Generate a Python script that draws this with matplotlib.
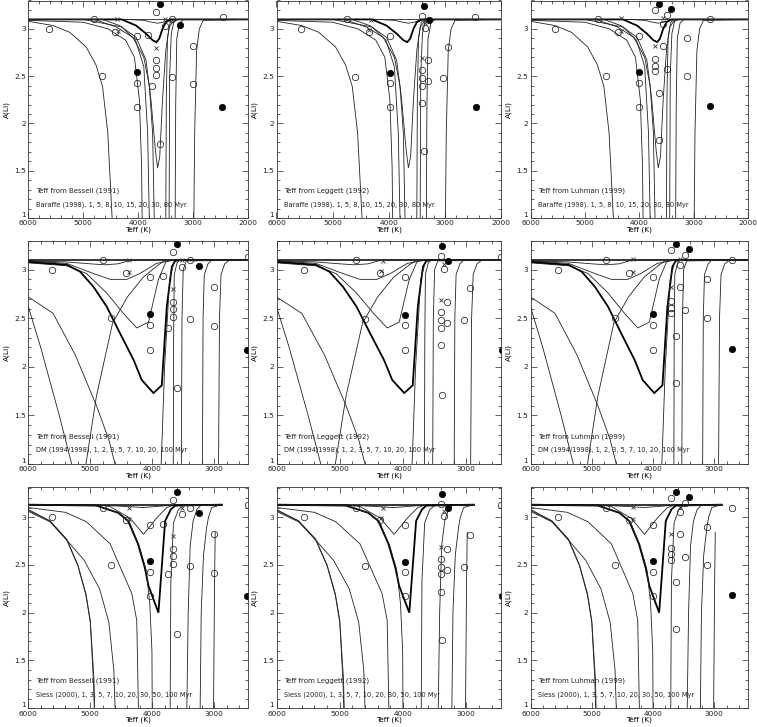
import matplotlib
matplotlib.use('Agg')
import matplotlib.pyplot as plt
from matplotlib.ticker import MultipleLocator, FixedLocator

plt.rcParams['font.family'] = ['Liberation Sans Narrow', 'DejaVu Sans']

# ---------------- observed stars (per Teff scale) ----------------
# Bessell (1991)
bes_open_teff = [5620, 4800, 4660, 4420, 4030, 4030, 4030, 3830, 3750, 3670, 3670, 3670, 3670, 3600, 3520, 3390, 3390, 3000, 3000, 2460]
bes_open_ali = [3.00, 3.10, 2.50, 2.97, 2.92, 2.43, 2.17, 2.93, 2.40, 3.18, 2.67, 2.59, 2.51, 1.78, 3.03, 3.10, 2.49, 2.82, 2.42, 3.13]
bes_fill_teff = [3600, 3250, 4030, 2470]
bes_fill_ali = [3.26, 3.04, 2.54, 2.17]
bes_cross_teff = [4380, 4370, 3670, 3520]
bes_cross_ali = [3.10, 2.98, 2.80, 3.10]
# Leggett (1992)
leg_open_teff = [5560, 4740, 4600, 4360, 3970, 3970, 3970, 3400, 3350, 3300, 3400, 3400, 3400, 3300, 3400, 3380, 2940, 3030, 2455]
leg_open_ali = [3.00, 3.10, 2.49, 2.97, 2.92, 2.43, 2.17, 3.14, 3.01, 2.67, 2.56, 2.48, 2.40, 2.45, 2.22, 1.71, 2.81, 2.48, 3.13]
leg_fill_teff = [3380, 3290, 3970, 2440]
leg_fill_ali = [3.24, 3.09, 2.53, 2.17]
leg_cross_teff = [4310, 4350, 3400, 3350]
leg_cross_ali = [3.09, 2.99, 2.69, 3.06]
# Luhman (1999)
luh_open_teff = [5557, 4760, 4620, 4385, 4005, 4005, 4005, 3708, 3708, 3708, 3708, 3562, 3562, 3630, 3630, 3484, 3484, 3125, 3125, 2708]
luh_open_ali = [3.00, 3.10, 2.50, 2.97, 2.92, 2.43, 2.17, 3.20, 2.68, 2.61, 2.55, 3.05, 2.82, 2.32, 1.83, 2.58, 3.15, 2.90, 2.50, 3.10]
luh_fill_teff = [3630, 3411, 4005, 2708]
luh_fill_ali = [3.26, 3.21, 2.54, 2.18]
luh_cross_teff = [4333, 4333, 3708, 3568]
luh_cross_ali = [3.11, 2.98, 2.82, 3.11]

scale_names = ["Bessell (1991)", "Leggett (1992)", "Luhman (1999)"]

# ---------------- model isochrones ----------------
# Baraffe (1998): 1, 5, 8, 10, 15, 20, 30, 80 Myr
bar_1_t = [6000, 2000]
bar_1_a = [3.10, 3.10]
bar_5_t = [6000, 4200, 3900, 3750, 3650, 3550, 3450, 3350, 2000]
bar_5_a = [3.10, 3.10, 3.09, 3.07, 3.06, 3.07, 3.09, 3.10, 3.10]
bar_8_t = [6000, 4300, 4040, 3860, 3740, 3670, 3620, 3560, 3500, 3410, 2000]
bar_8_a = [3.10, 3.10, 3.035, 2.95, 2.88, 2.86, 2.895, 3.00, 3.07, 3.10, 3.10]
bar_10_t = [6000, 4650, 4340, 4040, 3860, 3770, 3690, 3650, 3610, 3560, 3500, 3440, 3350, 3250, 2000]
bar_10_a = [3.10, 3.10, 3.035, 2.91, 2.67, 2.25, 1.72, 1.53, 1.65, 2.25, 2.77, 3.02, 3.09, 3.10, 3.10]
bar_15_t = [6000, 4800, 4400, 4100, 3900, 3800, 3740, 3710, 3690, 3520, 3500, 3490, 3470, 3420, 3350, 2000]
bar_15_a = [3.10, 3.10, 3.02, 2.91, 2.70, 2.40, 1.90, 1.00, 0.50, 0.50, 1.00, 2.30, 2.90, 3.07, 3.10, 3.10]
bar_20_t = [6000, 5000, 4300, 4050, 3900, 3830, 3800, 3780, 3460, 3440, 3430, 3400, 3350, 3280, 2000]
bar_20_a = [3.10, 3.10, 3.02, 2.88, 2.60, 1.90, 1.00, 0.50, 0.50, 1.00, 2.50, 2.95, 3.08, 3.10, 3.10]
bar_30_t = [6000, 5000, 4550, 4230, 4070, 3980, 3940, 3930, 3910, 3350, 3330, 3320, 3300, 3250, 3180, 2000]
bar_30_a = [3.09, 3.07, 3.00, 2.88, 2.70, 2.25, 1.54, 1.00, 0.50, 0.50, 1.00, 2.20, 2.90, 3.06, 3.10, 3.10]
bar_80_t = [6000, 5550, 5250, 4950, 4770, 4650, 4555, 4476, 4450, 3010, 2990, 2975, 2940, 2890, 2820, 2000]
bar_80_a = [3.08, 3.035, 2.965, 2.81, 2.62, 2.39, 1.90, 1.00, 0.50, 0.50, 1.00, 1.90, 2.77, 3.00, 3.09, 3.10]

# D'Antona & Mazzitelli (1994/1998)
dm_a_t = [6000, 2000]
dm_a_a = [3.10, 3.10]
dm_b_t = [6000, 5400, 5000, 4770, 4550, 4390, 4200, 2000]
dm_b_a = [3.09, 3.08, 3.06, 3.05, 3.06, 3.09, 3.10, 3.10]
dm_c_t = [6000, 5380, 4950, 4680, 4410, 4200, 3930, 3710, 3600, 2000]
dm_c_a = [3.09, 3.065, 2.96, 2.90, 2.90, 2.96, 3.065, 3.09, 3.10, 3.10]
dm_d_t = [6000, 5380, 5060, 4735, 4465, 4250, 4060, 3900, 3780, 3700, 2000]
dm_d_a = [3.07, 3.04, 2.96, 2.76, 2.55, 2.40, 2.46, 2.90, 3.08, 3.10, 3.10]
dm_e_t = [6000, 5380, 5165, 4950, 4735, 4520, 4300, 4170, 3980, 3846, 3765, 3684, 3631, 3550, 2000]
dm_e_a = [3.08, 3.05, 2.98, 2.825, 2.62, 2.345, 2.07, 1.865, 1.73, 1.81, 2.62, 3.03, 3.09, 3.10, 3.10]
dm_f_t = [6000, 5600, 5240, 4900, 4700, 4600, 4580, 3880, 3856, 3800, 3720, 3650, 3600, 2000]
dm_f_a = [2.72, 2.55, 2.12, 1.60, 1.25, 1.00, 0.50, 0.50, 1.00, 2.00, 2.90, 3.07, 3.10, 3.10]
dm_g_t = [6000, 5800, 5500, 5300, 5280, 3680, 3660, 3655, 3645, 3600, 3550, 2000]
dm_g_a = [2.62, 2.20, 1.50, 1.00, 0.50, 0.50, 1.00, 2.30, 2.95, 3.07, 3.10, 3.10]
dm_h_t = [5070, 4900, 4640, 4400, 4150, 3900, 3780]
dm_h_a = [1.00, 1.70, 2.45, 2.72, 2.92, 3.05, 3.10]
dm_i_t = [3540, 3530, 3520, 3500, 3450, 2000]
dm_i_a = [0.50, 1.00, 2.50, 3.00, 3.09, 3.10]
dm_j_t = [3200, 3190, 3180, 3160, 3100, 3040, 2000]
dm_j_a = [0.50, 1.00, 2.50, 2.95, 3.06, 3.10, 3.10]
dm_k_t = [2940, 2930, 2915, 2890, 2830, 2750, 2000]
dm_k_a = [0.50, 1.00, 2.50, 2.95, 3.06, 3.10, 3.10]

# Siess (2000): 1, 3, 5, 7, 10, 20, 30, 50, 100 Myr
si_1_t = [6000, 2880]
si_1_a = [3.13, 3.13]
si_3_t = [6000, 4700, 4400, 4150, 3950, 3750, 3600, 2880]
si_3_a = [3.13, 3.12, 3.11, 3.10, 3.11, 3.12, 3.13, 3.13]
si_5_t = [6000, 4900, 4680, 4360, 4140, 3930, 3765, 3630, 2880]
si_5_a = [3.13, 3.13, 3.11, 2.99, 2.82, 2.99, 3.10, 3.13, 3.13]
si_7_t = [6000, 4900, 4550, 4390, 4230, 4120, 4060, 3900, 3792, 3700, 3630, 2880]
si_7_a = [3.13, 3.12, 3.045, 2.96, 2.72, 2.47, 2.28, 2.00, 2.96, 3.08, 3.12, 3.13]
si_10_t = [6000, 4900, 4530, 4370, 4210, 4100, 4040, 4005, 4000, 3990, 3720, 3711, 3700, 3657, 3577, 3496, 2880]
si_10_a = [3.13, 3.12, 3.04, 2.95, 2.70, 2.45, 2.10, 1.60, 1.00, 0.50, 0.50, 1.00, 2.33, 2.94, 3.08, 3.12, 3.13]
si_20_t = [6000, 5400, 5060, 4680, 4330, 4250, 4223, 4210, 3450, 3442, 3420, 3388, 3340, 3280, 3220, 2880]
si_20_a = [3.10, 3.05, 2.95, 2.72, 2.20, 1.92, 1.00, 0.50, 0.50, 1.00, 2.00, 2.70, 2.96, 3.08, 3.12, 3.13]
si_30_t = [6000, 5650, 5380, 5100, 4850, 4700, 4620, 4600, 4590, 3240, 3227, 3210, 3173, 3120, 3092, 3040, 2880]
si_30_a = [3.08, 2.96, 2.76, 2.55, 2.25, 1.90, 1.40, 1.00, 0.50, 0.50, 1.00, 2.00, 2.60, 2.90, 3.00, 3.10, 3.13]
si_50_t = [6000, 5650, 5380, 5200, 5070, 5000, 4940, 4930, 4920, 3020, 3011, 2995, 2984]
si_50_a = [3.07, 2.96, 2.77, 2.50, 2.20, 1.92, 1.30, 1.00, 0.50, 0.50, 1.00, 2.30, 2.84]
si_100_t = [6000, 5650, 5380, 5200, 5070, 5000, 4950, 4935]
si_100_a = [3.06, 2.95, 2.76, 2.49, 2.18, 1.90, 1.30, 1.00]

models = [
    ("Baraffe (1998). 1, 5, 8, 10, 15, 20, 30, 80 Myr", (6000, 2000), (1.0, 3.3),
     [(bar_1_t, bar_1_a, 0.6), (bar_5_t, bar_5_a, 0.6), (bar_8_t, bar_8_a, 1.3),
      (bar_10_t, bar_10_a, 0.6), (bar_15_t, bar_15_a, 0.6), (bar_20_t, bar_20_a, 0.6),
      (bar_30_t, bar_30_a, 0.6), (bar_80_t, bar_80_a, 0.6)]),
    ("DM (1994/1998), 1, 2, 3, 5, 7, 10, 20, 100 Myr", (6000, 2450), (1.0, 3.3),
     [(dm_a_t, dm_a_a, 1.1), (dm_b_t, dm_b_a, 0.6), (dm_c_t, dm_c_a, 0.6),
      (dm_d_t, dm_d_a, 0.6), (dm_e_t, dm_e_a, 1.3), (dm_f_t, dm_f_a, 0.6),
      (dm_g_t, dm_g_a, 0.6), (dm_h_t, dm_h_a, 0.6), (dm_i_t, dm_i_a, 0.6),
      (dm_j_t, dm_j_a, 0.6), (dm_k_t, dm_k_a, 0.6)]),
    ("Siess (2000), 1, 3, 5, 7, 10, 20, 30, 50, 100 Myr", (6000, 2450), (1.0, 3.32),
     [(si_1_t, si_1_a, 1.1), (si_3_t, si_3_a, 0.6), (si_5_t, si_5_a, 0.6),
      (si_7_t, si_7_a, 1.3), (si_10_t, si_10_a, 0.6), (si_20_t, si_20_a, 0.6),
      (si_30_t, si_30_a, 0.6), (si_50_t, si_50_a, 0.6), (si_100_t, si_100_a, 0.6)]),
]

stars = [
    (bes_open_teff, bes_open_ali, bes_fill_teff, bes_fill_ali, bes_cross_teff, bes_cross_ali),
    (leg_open_teff, leg_open_ali, leg_fill_teff, leg_fill_ali, leg_cross_teff, leg_cross_ali),
    (luh_open_teff, luh_open_ali, luh_fill_teff, luh_fill_ali, luh_cross_teff, luh_cross_ali),
]

# ---------------- layout ----------------
W, H = 757, 727
fig = plt.figure(figsize=(W / 100, H / 100), dpi=100)
col_edges = [(28.3, 248.3), (276.5, 501.0), (530.5, 748.0)]
row_edges = [(0.5, 218.0), (240.5, 464.0), (486.5, 708.3)]
FS = 5.3
TFS = 5.0
LC = '#222222'

for r, (mlabel, xlim, ylim, curves) in enumerate(models):
    top, bot = row_edges[r]
    for c in range(3):
        left, right = col_edges[c]
        ax = fig.add_axes([left / W, 1 - bot / H, (right - left) / W, (bot - top) / H])
        for t, a, lw in curves:
            ax.plot(t, a, color='black' if lw > 1 else LC, lw=lw, solid_joinstyle='miter')
        ot, oa, ft, fa, xt, xa = stars[c]
        ax.plot(ot, oa, 'o', ms=4.6, mfc='none', mec='#222222', mew=0.55)
        ax.plot(ft, fa, 'o', ms=4.6, mfc='black', mec='black', mew=0.5)
        ax.plot(xt, xa, 'x', ms=3.0, color='#333333', mew=0.6)
        ax.set_xlim(*xlim)
        ax.set_ylim(*ylim)
        ax.xaxis.set_major_locator(MultipleLocator(1000))
        ax.xaxis.set_minor_locator(MultipleLocator(200))
        ax.yaxis.set_major_locator(FixedLocator([1, 1.5, 2, 2.5, 3]))
        ax.yaxis.set_minor_locator(MultipleLocator(0.1))
        ylabels = ax.set_yticklabels(['1', '1.5', '2', '2.5', '3'])
        ylabels[0].set_verticalalignment('bottom')
        ax.tick_params(which='both', direction='in', top=True, right=True,
                       labelsize=FS, width=0.5, colors='#222222')
        ax.tick_params(axis='x', pad=1.6)
        ax.tick_params(axis='y', pad=1.8)
        ax.tick_params(which='major', length=4)
        ax.tick_params(which='minor', length=2)
        for s in ax.spines.values():
            s.set_linewidth(0.6)
            s.set_color('#333333')
        ax.set_xlabel('Teff (K)', fontsize=FS, labelpad=0.3)
        ax.set_ylabel('A(Li)', fontsize=FS, labelpad=3)
        ax.text(0.035, 0.115, 'Teff from ' + scale_names[c], transform=ax.transAxes,
                fontsize=TFS, color='#222222', family=['DejaVu Sans'])
        ax.text(0.035, 0.055, mlabel, transform=ax.transAxes, fontsize=TFS * 0.95,
                color='#222222', family=['DejaVu Sans'])

fig.savefig('out.png', dpi=100)
